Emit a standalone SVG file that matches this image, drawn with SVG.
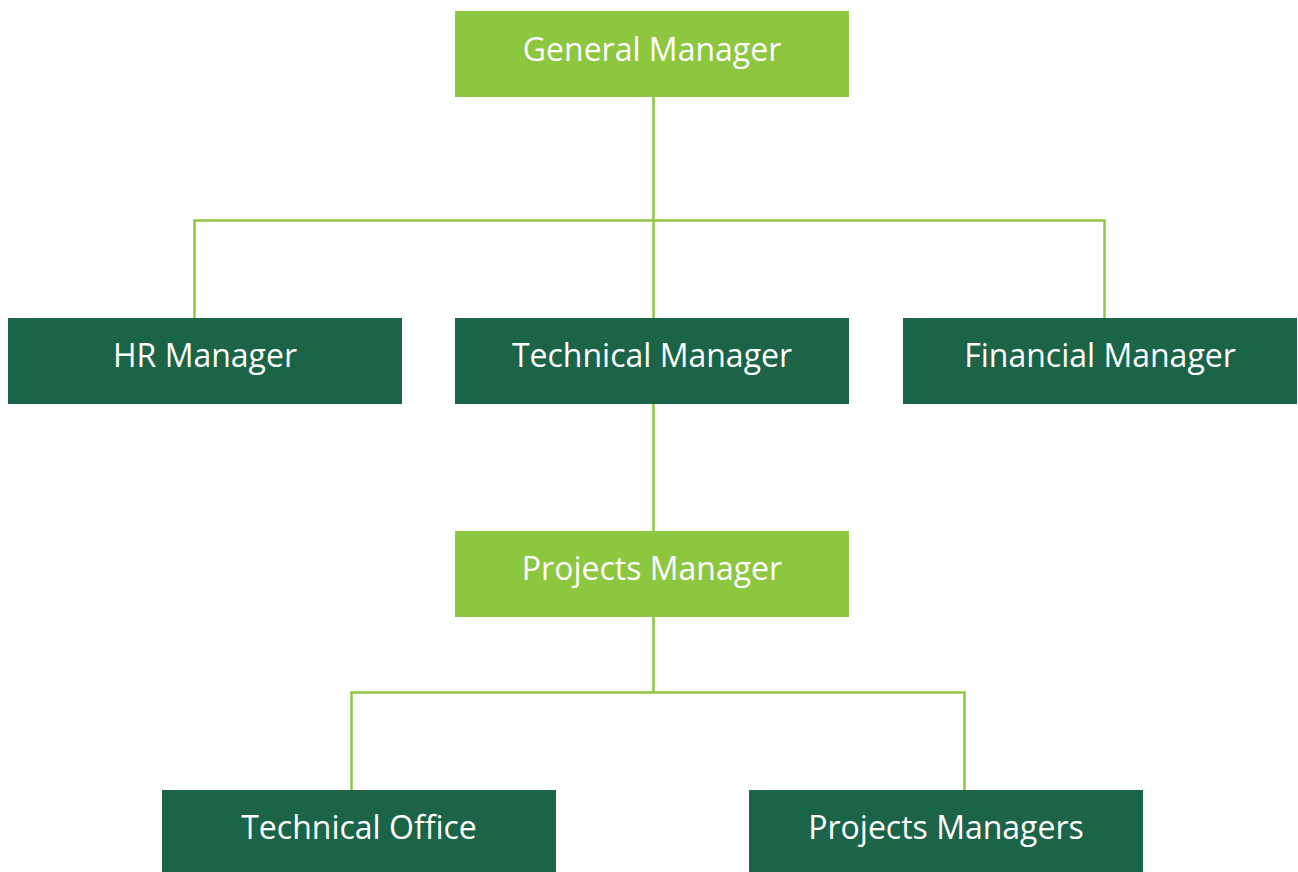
<svg xmlns="http://www.w3.org/2000/svg" width="1298" height="872" viewBox="0 0 1298 872">
<style>
.light{fill:#8dc63f}
.dark{fill:#1b6447}
.lbl{fill:#ffffff;font-family:"Open Sans","Noto Sans",sans-serif;font-size:32px;text-anchor:middle}
.conn{stroke:#8dc63f;stroke-width:2.5;fill:none}
</style>
<rect width="1298" height="872" fill="#ffffff"/>
<g id="connectors">
<line class="conn" x1="653.5" y1="97" x2="653.5" y2="318"/>
<polyline class="conn" points="194.5,318 194.5,220.5 1104.5,220.5 1104.5,318"/>
<line class="conn" x1="653.5" y1="404" x2="653.5" y2="531"/>
<line class="conn" x1="653.5" y1="617" x2="653.5" y2="692.5"/>
<polyline class="conn" points="351.5,790 351.5,692.5 964.5,692.5 964.5,790"/>
</g>
<g id="general-manager">
<rect class="light" x="455" y="11" width="394" height="86"/>
<text class="lbl" x="652" y="61">General Manager</text>
</g>
<g id="hr-manager">
<rect class="dark" x="8" y="318" width="394" height="86"/>
<text class="lbl" x="205" y="367">HR Manager</text>
</g>
<g id="technical-manager">
<rect class="dark" x="455" y="318" width="394" height="86"/>
<text class="lbl" x="652" y="367">Technical Manager</text>
</g>
<g id="financial-manager">
<rect class="dark" x="903" y="318" width="394" height="86"/>
<text class="lbl" x="1100" y="367">Financial Manager</text>
</g>
<g id="projects-manager">
<rect class="light" x="455" y="531" width="394" height="86"/>
<text class="lbl" x="652" y="580">Projects Manager</text>
</g>
<g id="technical-office">
<rect class="dark" x="162" y="790" width="394" height="82"/>
<text class="lbl" x="359" y="839">Technical Office</text>
</g>
<g id="projects-managers">
<rect class="dark" x="749" y="790" width="394" height="82"/>
<text class="lbl" x="946" y="839">Projects Managers</text>
</g>
</svg>
